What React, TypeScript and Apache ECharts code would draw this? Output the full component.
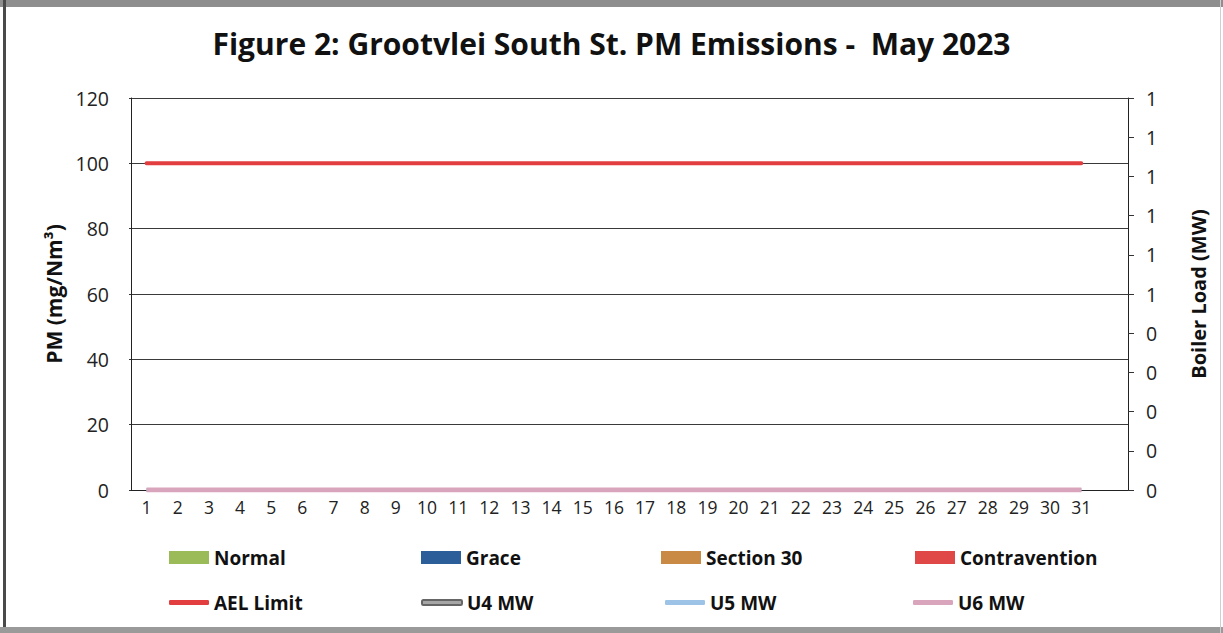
import React, { useEffect, useRef } from "react";
import * as echarts from "echarts";

const days = [
  "1", "2", "3", "4", "5", "6", "7", "8", "9", "10", "11", "12", "13", "14", "15", "16",
  "17", "18", "19", "20", "21", "22", "23", "24", "25", "26", "27", "28", "29", "30", "31", "",
];
const normal = [0, 0, 0, 0, 0, 0, 0, 0, 0, 0, 0, 0, 0, 0, 0, 0, 0, 0, 0, 0, 0, 0, 0, 0, 0, 0, 0, 0, 0, 0, 0];
const grace = [0, 0, 0, 0, 0, 0, 0, 0, 0, 0, 0, 0, 0, 0, 0, 0, 0, 0, 0, 0, 0, 0, 0, 0, 0, 0, 0, 0, 0, 0, 0];
const section30 = [0, 0, 0, 0, 0, 0, 0, 0, 0, 0, 0, 0, 0, 0, 0, 0, 0, 0, 0, 0, 0, 0, 0, 0, 0, 0, 0, 0, 0, 0, 0];
const contravention = [0, 0, 0, 0, 0, 0, 0, 0, 0, 0, 0, 0, 0, 0, 0, 0, 0, 0, 0, 0, 0, 0, 0, 0, 0, 0, 0, 0, 0, 0, 0];
const aelLimit = [100, 100, 100, 100, 100, 100, 100, 100, 100, 100, 100, 100, 100, 100, 100, 100, 100, 100, 100, 100, 100, 100, 100, 100, 100, 100, 100, 100, 100, 100, 100];
const u4MW = [0, 0, 0, 0, 0, 0, 0, 0, 0, 0, 0, 0, 0, 0, 0, 0, 0, 0, 0, 0, 0, 0, 0, 0, 0, 0, 0, 0, 0, 0, 0];
const u5MW = [0, 0, 0, 0, 0, 0, 0, 0, 0, 0, 0, 0, 0, 0, 0, 0, 0, 0, 0, 0, 0, 0, 0, 0, 0, 0, 0, 0, 0, 0, 0];
const u6MW = [0, 0, 0, 0, 0, 0, 0, 0, 0, 0, 0, 0, 0, 0, 0, 0, 0, 0, 0, 0, 0, 0, 0, 0, 0, 0, 0, 0, 0, 0, 0];

const FONT = "'Open Sans', 'Noto Sans', sans-serif";

export default function App() {
  const ref = useRef<HTMLDivElement>(null);
  useEffect(() => {
    if (!ref.current) return;
    const chart = echarts.init(ref.current, undefined, { renderer: "svg" });
    const legendText = { fontFamily: FONT, fontWeight: "bold", fontSize: 19, color: "#111" };
    const barLegend = (name: string, left: number) => ({
      data: [name], left, top: 543, itemWidth: 40, itemHeight: 13, itemGap: 3,
      textStyle: legendText, icon: "rect",
    });
    const lineLegend = (name: string, left: number) => ({
      data: [name], left, top: 588, itemWidth: 40, itemHeight: 5, itemGap: 3,
      textStyle: legendText, icon: "roundRect",
    });
    chart.setOption({
      animation: false,
      backgroundColor: "#fff",
      title: {
        text: "Figure 2: Grootvlei South St. PM Emissions -  May 2023",
        left: "center",
        top: 23,
        textStyle: { fontFamily: FONT, fontWeight: "bold", fontSize: 30, color: "#111" },
      },
      graphic: [
        { type: "rect", shape: { x: 0, y: 0, width: 1223, height: 7 }, style: { fill: "#8e8e8e" } },
        { type: "rect", shape: { x: 3, y: 0, width: 3, height: 633 }, style: { fill: "#4a4a4a" } },
        { type: "rect", shape: { x: 0, y: 627, width: 1223, height: 6 }, style: { fill: "#9a9a9a" } },
        { type: "rect", shape: { x: 1220, y: 0, width: 1, height: 633 }, style: { fill: "#cfcfcf" } },
      ],
      legend: [
        barLegend("Normal", 164),
        barLegend("Grace", 416),
        barLegend("Section 30", 656),
        barLegend("Contravention", 910),
        lineLegend("AEL Limit", 164),
        lineLegend("U4 MW", 416),
        lineLegend("U5 MW", 660),
        lineLegend("U6 MW", 908),
      ],
      grid: { left: 131, right: 95, top: 98, bottom: 143, containLabel: false },
      xAxis: {
        type: "category",
        data: days,
        boundaryGap: true,
        axisLine: { lineStyle: { color: "#222", width: 1 } },
        axisTick: { alignWithLabel: true, length: 5, lineStyle: { color: "#333" } },
        axisLabel: { interval: 0, fontFamily: FONT, fontSize: 17.5, color: "#222", margin: 8 },
      },
      yAxis: [
        {
          type: "value",
          min: 0,
          max: 120,
          interval: 20,
          name: "PM (mg/Nm³)",
          nameLocation: "middle",
          nameRotate: 90,
          nameGap: 66,
          nameTextStyle: { fontFamily: FONT, fontWeight: "bold", fontSize: 21, color: "#111" },
          axisLine: { show: true, lineStyle: { color: "#222" } },
          axisTick: { show: true, length: 2, lineStyle: { color: "#333" } },
          axisLabel: { fontFamily: FONT, fontSize: 19.5, color: "#222", margin: 22 },
          splitLine: { lineStyle: { color: "#3a3a3a", width: 1 } },
        },
        {
          type: "value",
          min: 0,
          max: 1,
          interval: 0.1,
          position: "right",
          name: "Boiler Load (MW)",
          nameLocation: "middle",
          nameRotate: 90,
          nameGap: 60,
          nameTextStyle: { fontFamily: FONT, fontWeight: "bold", fontSize: 20, color: "#111" },
          axisLine: { show: true, lineStyle: { color: "#222" } },
          axisTick: { show: true, length: 6, lineStyle: { color: "#333" } },
          axisLabel: {
            fontFamily: FONT, fontSize: 19.5, color: "#222", margin: 18,
            formatter: (v: number) => String(Math.round(v + 1e-9)),
          },
          splitLine: { show: false },
        },
      ],
      series: [
        { name: "Normal", type: "bar", data: normal, stack: "pm", itemStyle: { color: "#9bbb59" } },
        { name: "Grace", type: "bar", data: grace, stack: "pm", itemStyle: { color: "#2c5f9a" } },
        { name: "Section 30", type: "bar", data: section30, stack: "pm", itemStyle: { color: "#c98a45" } },
        { name: "Contravention", type: "bar", data: contravention, stack: "pm", itemStyle: { color: "#e04848" } },
        {
          name: "AEL Limit", type: "line", data: aelLimit, showSymbol: false,
          lineStyle: { color: "#e23e40", width: 4, cap: "round" }, itemStyle: { color: "#e23e40" },
        },
        {
          name: "U4 MW", type: "line", yAxisIndex: 1, data: u4MW, showSymbol: false,
          lineStyle: { color: "#a6a6a6", width: 4 }, itemStyle: { color: "#a6a6a6", borderColor: "#666", borderWidth: 1 },
        },
        {
          name: "U5 MW", type: "line", yAxisIndex: 1, data: u5MW, showSymbol: false,
          lineStyle: { color: "#9dc3e6", width: 4 }, itemStyle: { color: "#9dc3e6" },
        },
        {
          name: "U6 MW", type: "line", yAxisIndex: 1, data: u6MW, showSymbol: false,
          lineStyle: { color: "#d9a5bc", width: 5 }, itemStyle: { color: "#d9a5bc" },
        },
      ],
    });
    return () => chart.dispose();
  }, []);
  return <div ref={ref} style={{ position: "fixed", left: 0, top: 0, width: 1223, height: 633 }} />;
}
